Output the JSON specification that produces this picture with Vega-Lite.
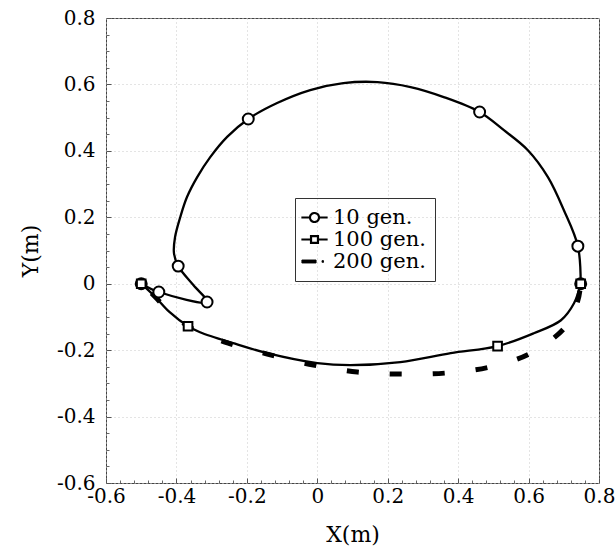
{
  "$schema": "https://vega.github.io/schema/vega-lite/v6.json",
  "width": 493,
  "height": 465,
  "autosize": {"type": "none"},
  "padding": {"left": 106, "top": 18, "right": 16, "bottom": 74},
  "background": "white",
  "config": {"view": {"stroke": "#444", "strokeWidth": 1}, "font": "DejaVu Serif"},
  "datasets": {
    "paths": [
      {"s": "10 gen.", "i": 1, "x": -0.5, "y": 0.0},
      {"s": "10 gen.", "i": 2, "x": -0.45, "y": -0.025},
      {"s": "10 gen.", "i": 3, "x": -0.313, "y": -0.055},
      {"s": "10 gen.", "i": 4, "x": -0.352, "y": -0.004},
      {"s": "10 gen.", "i": 5, "x": -0.395, "y": 0.053},
      {"s": "10 gen.", "i": 6, "x": -0.407, "y": 0.092},
      {"s": "10 gen.", "i": 7, "x": -0.404, "y": 0.14},
      {"s": "10 gen.", "i": 8, "x": -0.389, "y": 0.201},
      {"s": "10 gen.", "i": 9, "x": -0.37, "y": 0.261},
      {"s": "10 gen.", "i": 10, "x": -0.341, "y": 0.321},
      {"s": "10 gen.", "i": 11, "x": -0.304, "y": 0.381},
      {"s": "10 gen.", "i": 12, "x": -0.256, "y": 0.442},
      {"s": "10 gen.", "i": 13, "x": -0.196, "y": 0.496},
      {"s": "10 gen.", "i": 14, "x": -0.114, "y": 0.544},
      {"s": "10 gen.", "i": 15, "x": -0.02, "y": 0.583},
      {"s": "10 gen.", "i": 16, "x": 0.074, "y": 0.604},
      {"s": "10 gen.", "i": 17, "x": 0.171, "y": 0.607},
      {"s": "10 gen.", "i": 18, "x": 0.265, "y": 0.592},
      {"s": "10 gen.", "i": 19, "x": 0.359, "y": 0.562},
      {"s": "10 gen.", "i": 20, "x": 0.461, "y": 0.517},
      {"s": "10 gen.", "i": 21, "x": 0.529, "y": 0.463},
      {"s": "10 gen.", "i": 22, "x": 0.598, "y": 0.402},
      {"s": "10 gen.", "i": 23, "x": 0.655, "y": 0.321},
      {"s": "10 gen.", "i": 24, "x": 0.7, "y": 0.222},
      {"s": "10 gen.", "i": 25, "x": 0.74, "y": 0.113},
      {"s": "10 gen.", "i": 26, "x": 0.748, "y": 0.0},
      {"s": "100 gen.", "i": 1, "x": -0.5, "y": 0.0},
      {"s": "100 gen.", "i": 2, "x": -0.46, "y": -0.04},
      {"s": "100 gen.", "i": 3, "x": -0.42, "y": -0.085},
      {"s": "100 gen.", "i": 4, "x": -0.367, "y": -0.128},
      {"s": "100 gen.", "i": 5, "x": -0.333, "y": -0.146},
      {"s": "100 gen.", "i": 6, "x": -0.239, "y": -0.179},
      {"s": "100 gen.", "i": 7, "x": -0.142, "y": -0.209},
      {"s": "100 gen.", "i": 8, "x": 0.0, "y": -0.239},
      {"s": "100 gen.", "i": 9, "x": 0.094, "y": -0.245},
      {"s": "100 gen.", "i": 10, "x": 0.236, "y": -0.236},
      {"s": "100 gen.", "i": 11, "x": 0.379, "y": -0.209},
      {"s": "100 gen.", "i": 12, "x": 0.512, "y": -0.188},
      {"s": "100 gen.", "i": 13, "x": 0.615, "y": -0.149},
      {"s": "100 gen.", "i": 14, "x": 0.692, "y": -0.11},
      {"s": "100 gen.", "i": 15, "x": 0.729, "y": -0.059},
      {"s": "100 gen.", "i": 16, "x": 0.748, "y": 0.0},
      {"s": "200 gen.", "i": 1, "x": -0.5, "y": 0.0},
      {"s": "200 gen.", "i": 2, "x": -0.46, "y": -0.04},
      {"s": "200 gen.", "i": 3, "x": -0.42, "y": -0.085},
      {"s": "200 gen.", "i": 4, "x": -0.367, "y": -0.128},
      {"s": "200 gen.", "i": 5, "x": -0.333, "y": -0.146},
      {"s": "200 gen.", "i": 6, "x": -0.253, "y": -0.179},
      {"s": "200 gen.", "i": 7, "x": -0.142, "y": -0.212},
      {"s": "200 gen.", "i": 8, "x": -0.011, "y": -0.245},
      {"s": "200 gen.", "i": 9, "x": 0.114, "y": -0.266},
      {"s": "200 gen.", "i": 10, "x": 0.236, "y": -0.272},
      {"s": "200 gen.", "i": 11, "x": 0.364, "y": -0.269},
      {"s": "200 gen.", "i": 12, "x": 0.49, "y": -0.251},
      {"s": "200 gen.", "i": 13, "x": 0.606, "y": -0.209},
      {"s": "200 gen.", "i": 14, "x": 0.706, "y": -0.128},
      {"s": "200 gen.", "i": 15, "x": 0.74, "y": -0.05},
      {"s": "200 gen.", "i": 16, "x": 0.748, "y": 0.0}
    ],
    "marks": [
      {"s": "10 gen.", "x": -0.5, "y": 0.0},
      {"s": "10 gen.", "x": -0.45, "y": -0.025},
      {"s": "10 gen.", "x": -0.313, "y": -0.055},
      {"s": "10 gen.", "x": -0.395, "y": 0.053},
      {"s": "10 gen.", "x": -0.196, "y": 0.496},
      {"s": "10 gen.", "x": 0.461, "y": 0.517},
      {"s": "10 gen.", "x": 0.74, "y": 0.113},
      {"s": "10 gen.", "x": 0.748, "y": 0.0},
      {"s": "100 gen.", "x": -0.5, "y": 0.0},
      {"s": "100 gen.", "x": -0.367, "y": -0.128},
      {"s": "100 gen.", "x": 0.512, "y": -0.188},
      {"s": "100 gen.", "x": 0.748, "y": 0.0}
    ]
  },
  "layer": [
    {
      "data": {"name": "paths"},
      "transform": [{"filter": "datum.s !== '200 gen.'"}],
      "mark": {"type": "line", "strokeWidth": 2.3, "strokeJoin": "round", "interpolate": "catmull-rom"},
      "encoding": {
        "x": {
          "field": "x", "type": "quantitative",
          "scale": {"domain": [-0.6, 0.8], "nice": false, "zero": false},
          "axis": {
            "orient": "bottom",
            "values": [-0.6, -0.4, -0.2, 0, 0.2, 0.4, 0.6, 0.8],
            "labelExpr": "datum.value == 0 ? '0' : replace(format(datum.value, '.1f'), '\u2212', '-')",
            "title": "X(m)", "titleFont": "DejaVu Serif", "titleFontSize": 22, "titleFontWeight": "normal", "titleColor": "black", "titlePadding": 18,
            "labelFont": "DejaVu Serif", "labelFontSize": 20, "labelColor": "black", "labelPadding": 8,
            "labelFlush": false, "labelOverlap": false,
            "tickSize": -5, "tickColor": "#555", "domain": false,
            "grid": true, "gridDash": [1, 3], "gridColor": "#c8c8c8"
          }
        },
        "y": {
          "field": "y", "type": "quantitative",
          "scale": {"domain": [-0.6, 0.8], "nice": false, "zero": false},
          "axis": {
            "orient": "left",
            "values": [-0.6, -0.4, -0.2, 0, 0.2, 0.4, 0.6, 0.8],
            "labelExpr": "datum.value == 0 ? '0' : replace(format(datum.value, '.1f'), '\u2212', '-')",
            "title": "Y(m)", "titleFont": "DejaVu Serif", "titleFontSize": 22, "titleFontWeight": "normal", "titleColor": "black", "titlePadding": 14,
            "labelFont": "DejaVu Serif", "labelFontSize": 20, "labelColor": "black", "labelPadding": 16,
            "labelFlush": false, "labelOverlap": false,
            "tickSize": -5, "tickColor": "#555", "domain": false,
            "grid": true, "gridDash": [1, 3], "gridColor": "#c8c8c8"
          }
        },
        "order": {"field": "i", "type": "quantitative"},
        "color": {
          "field": "s", "type": "nominal",
          "scale": {"domain": ["10 gen.", "100 gen.", "200 gen."], "range": ["black", "black", "black"]},
          "legend": {
            "orient": "none", "legendX": 189, "legendY": 180, "title": null,
            "strokeColor": "#333", "padding": 9,
            "labelFont": "DejaVu Serif", "labelFontSize": 21, "labelColor": "black", "labelOffset": 8,
            "symbolSize": 441, "rowPadding": 0,
            "encode": {
              "symbols": {
                "update": {
                  "shape": {"signal": "datum.value === '10 gen.' ? 'M-1.25,0L-0.43,0M0.43,0L1.25,0M0.43,0A0.43,0.43,0,1,1,-0.43,0A0.43,0.43,0,1,1,0.43,0Z' : datum.value === '100 gen.' ? 'M-1.25,0L-0.33,0M0.33,0L1.25,0M-0.33,-0.33L0.33,-0.33L0.33,0.33L-0.33,0.33Z' : 'M-1.2,-0.14L0.15,-0.14L0.15,0.14L-1.2,0.14ZM0.72,-0.08L0.86,-0.08L0.86,0.08L0.72,0.08Z'"},
                  "strokeWidth": {"signal": "datum.value === '200 gen.' ? 1 : 2.2"},
                  "fill": {"signal": "datum.value === '200 gen.' ? 'black' : 'white'"},
                  "stroke": {"value": "black"},
                  "strokeDash": {"value": [1, 0]},
                  "opacity": {"value": 1},
                  "fillOpacity": {"value": 1}
                }
              }
            }
          }
        }
      }
    },
    {
      "data": {"name": "paths"},
      "transform": [{"filter": "datum.s === '200 gen.'"}],
      "mark": {"type": "line", "strokeWidth": 5, "strokeDash": [12, 31], "strokeDashOffset": 29, "strokeCap": "butt", "interpolate": "catmull-rom"},
      "encoding": {
        "x": {"field": "x", "type": "quantitative", "axis": null},
        "y": {"field": "y", "type": "quantitative", "axis": null},
        "order": {"field": "i", "type": "quantitative"},
        "color": {"field": "s", "type": "nominal"}
      }
    },
    {
      "data": {"name": "marks"},
      "mark": {"type": "point", "filled": true, "fill": "white", "stroke": "black", "strokeWidth": 2, "opacity": 1},
      "encoding": {
        "x": {
          "field": "x", "type": "quantitative",
          "axis": {
            "orient": "bottom",
            "values": [-0.56, -0.52, -0.48, -0.44, -0.36, -0.32, -0.28, -0.24, -0.16, -0.12, -0.08, -0.04, 0.04, 0.08, 0.12, 0.16, 0.24, 0.28, 0.32, 0.36, 0.44, 0.48, 0.52, 0.56, 0.64, 0.68, 0.72, 0.76],
            "labels": false, "title": null, "domain": false, "grid": false,
            "tickSize": -3, "tickColor": "#666"
          }
        },
        "y": {
          "field": "y", "type": "quantitative",
          "axis": {
            "orient": "left",
            "values": [-0.55, -0.5, -0.45, -0.35, -0.3, -0.25, -0.15, -0.1, -0.05, 0.05, 0.1, 0.15, 0.25, 0.3, 0.35, 0.45, 0.5, 0.55, 0.65, 0.7, 0.75],
            "labels": false, "title": null, "domain": false, "grid": false,
            "tickSize": -3, "tickColor": "#666"
          }
        },
        "shape": {
          "field": "s", "type": "nominal",
          "scale": {"domain": ["10 gen.", "100 gen."], "range": ["circle", "square"]},
          "legend": null
        },
        "size": {
          "field": "s", "type": "ordinal",
          "scale": {"domain": ["10 gen.", "100 gen."], "range": [120, 75]},
          "legend": null
        }
      }
    }
  ],
  "resolve": {"axis": {"x": "independent", "y": "independent"}}
}
